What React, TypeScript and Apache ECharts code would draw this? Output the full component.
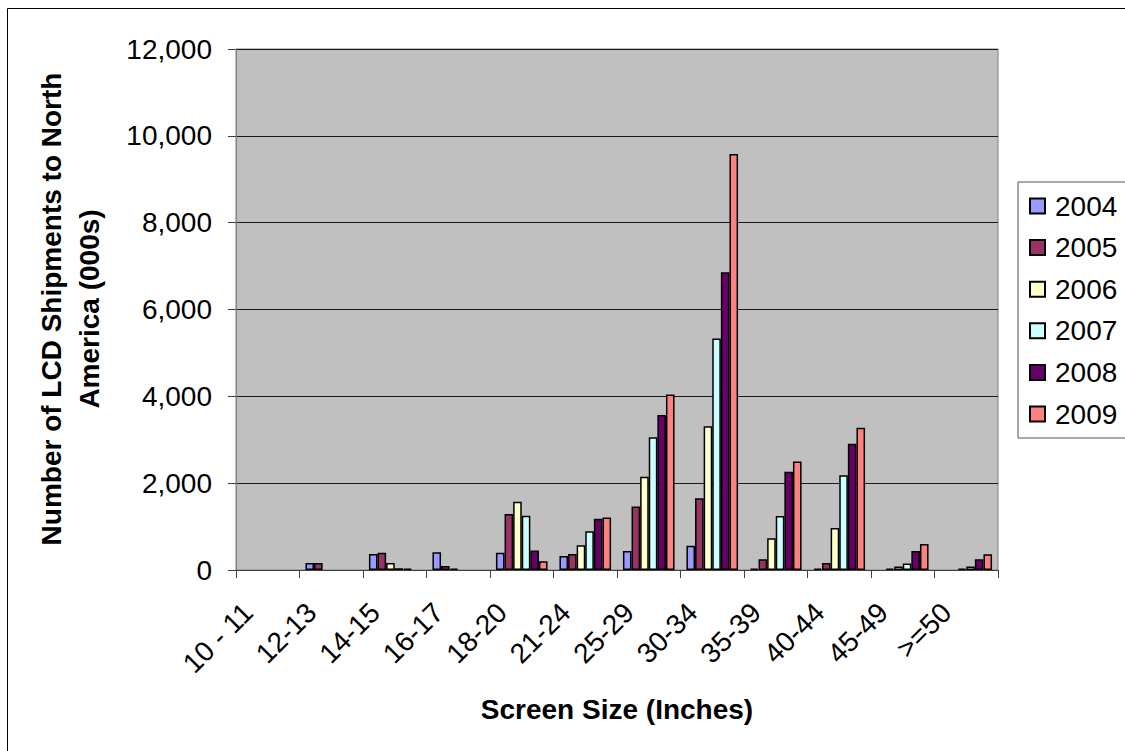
import React, { useEffect, useRef } from "react";
import * as echarts from "echarts";

const categories = ["10 - 11", "12-13", "14-15", "16-17", "18-20", "21-24", "25-29", "30-34", "35-39", "40-44", "45-49", ">=50"];
const years = ["2004", "2005", "2006", "2007", "2008", "2009"];
const v2004 = [0, 160, 370, 410, 400, 320, 440, 560, 30, 30, 0, 0];
const v2005 = [0, 160, 400, 90, 1290, 370, 1460, 1650, 245, 160, 30, 0];
const v2006 = [0, 0, 160, 30, 1570, 570, 2150, 3310, 730, 970, 80, 30];
const v2007 = [0, 0, 40, 0, 1250, 890, 3060, 5330, 1245, 2180, 150, 80];
const v2008 = [0, 0, 30, 0, 450, 1180, 3570, 6860, 2265, 2905, 440, 245];
const v2009 = [0, 0, 0, 0, 200, 1210, 4040, 9580, 2500, 3275, 600, 365];
const seriesValues = [v2004, v2005, v2006, v2007, v2008, v2009];
const colors = ["#9999FF", "#993366", "#FFFFCC", "#CCFFFF", "#660066", "#FF8080"];
const yTicks = { min: 0, max: 12000, interval: 2000 };
const yTitle = "Number of LCD Shipments to North\nAmerica (000s)";
const xTitle = "Screen Size (Inches)";

const FONT = '"Liberation Sans", Arial, sans-serif';

export default function App() {
  const ref = useRef<HTMLDivElement>(null);
  useEffect(() => {
    if (!ref.current) return;
    const chart = echarts.init(ref.current, null, { renderer: "svg" });
    chart.setOption({
      animation: false,
      backgroundColor: "#ffffff",
      textStyle: { fontFamily: FONT },
      grid: {
        left: 236,
        top: 49,
        width: 762,
        height: 521,
        show: true,
        backgroundColor: "#C0C0C0",
        borderColor: "#808080",
        borderWidth: 1,
      },
      legend: {
        orient: "vertical",
        left: 1018,
        top: 182,
        padding: [10, 30, 10, 11],
        itemWidth: 15,
        itemHeight: 15,
        itemGap: 13.6,
        icon: "rect",
        borderColor: "#555",
        borderWidth: 1,
        backgroundColor: "#ffffff",
        data: years,
        textStyle: {
          fontSize: 28,
          fontFamily: FONT,
          color: "#000",
          lineHeight: 28,
          padding: [0, 0, 0, 5],
        },
      },
      xAxis: {
        type: "category",
        data: categories,
        boundaryGap: true,
        axisLine: { show: true, lineStyle: { color: "#404040", width: 1 } },
        axisTick: { show: true, alignWithLabel: false, length: 8, lineStyle: { color: "#404040" } },
        axisLabel: {
          interval: 0,
          rotate: 45,
          margin: 18,
          padding: [0, 28, 0, 0],
          fontSize: 28,
          fontFamily: FONT,
          color: "#000",
        },
        splitLine: { show: false },
      },
      yAxis: {
        type: "value",
        min: yTicks.min,
        max: yTicks.max,
        interval: yTicks.interval,
        axisLine: { show: true, lineStyle: { color: "#808080", width: 1 } },
        axisTick: { show: true, length: 8, lineStyle: { color: "#404040" } },
        axisLabel: {
          margin: 24,
          fontSize: 28,
          fontFamily: FONT,
          color: "#000",
          formatter: (v: number) => v.toLocaleString("en-US"),
        },
        splitLine: { show: true, lineStyle: { color: "#1a1a1a", width: 1 } },
      },
      series: years.map((y, i) => ({
        name: y,
        type: "bar",
        data: seriesValues[i].map((v) => (v === 0 ? null : v)),
        barGap: "0%",
        barCategoryGap: "18.7%",
        itemStyle: { color: colors[i], borderColor: "#000", borderWidth: 1.5 },
      })),
      graphic: [
        {
          type: "rect",
          shape: { x: 7.5, y: 8.5, width: 1300, height: 900 },
          style: { fill: "none", stroke: "#000", lineWidth: 1 },
          silent: true,
          z: 100,
        },
        {
          type: "text",
          x: 70,
          y: 309,
          rotation: Math.PI / 2,
          style: {
            text: yTitle,
            fontSize: 28,
            fontWeight: "bold",
            fontFamily: FONT,
            fill: "#000",
            align: "center",
            verticalAlign: "middle",
            textAlign: "center",
            textVerticalAlign: "middle",
            lineHeight: 38,
          },
        },
        {
          type: "text",
          x: 617,
          y: 709,
          style: {
            text: xTitle,
            fontSize: 28,
            fontWeight: "bold",
            fontFamily: FONT,
            fill: "#000",
            align: "center",
            verticalAlign: "middle",
            textAlign: "center",
            textVerticalAlign: "middle",
          },
        },
      ],
    });
    return () => chart.dispose();
  }, []);
  return (
    <div
      ref={ref}
      style={{ position: "fixed", left: 0, top: 0, width: 1125, height: 751 }}
    />
  );
}
